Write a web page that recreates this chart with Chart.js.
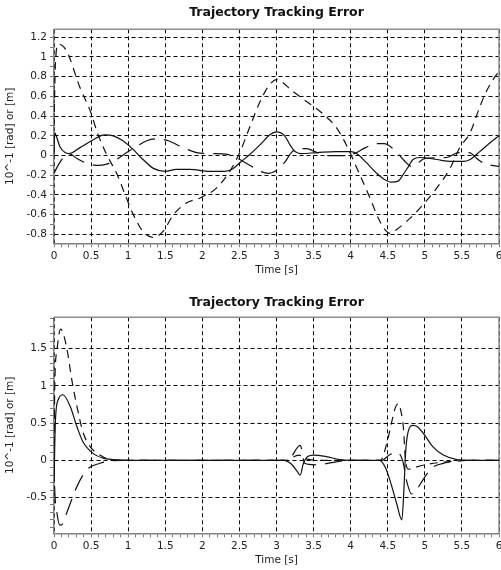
<!DOCTYPE html>
<html>
<head>
<meta charset="utf-8">
<script src="https://cdn.jsdelivr.net/npm/chart.js@4.4.1/dist/chart.umd.min.js"></script>
<style>
  body { margin: 0; background: #fff; }
  canvas { display: block; }
</style>
</head>
<body>
<canvas id="topChart" width="501" height="285"></canvas>
<canvas id="bottomChart" width="501" height="285"></canvas>
<script>
// upper plot
const topSolidT = [0, 0.01, 0.03, 0.08, 0.15, 0.2, 0.35, 0.53, 0.68, 0.8, 0.93, 1.07, 1.2, 1.34, 1.5, 1.65, 1.83, 2.1, 2.3, 2.4, 2.51, 2.64, 2.78, 2.91, 3.0, 3.11, 3.18, 3.25, 3.33, 3.55, 3.8, 4.0, 4.08, 4.21, 4.35, 4.45, 4.55, 4.64, 4.71, 4.78, 4.84, 4.93, 5.16, 5.34, 5.52, 5.61, 5.74, 5.88, 6.0];
const topSolid = [0, 0.23, 0.2, 0.09, 0.03, 0.02, 0.08, 0.16, 0.21, 0.2, 0.15, 0.06, -0.04, -0.13, -0.16, -0.14, -0.14, -0.16, -0.16, -0.14, -0.07, 0.01, 0.11, 0.21, 0.24, 0.2, 0.11, 0.04, 0.02, 0.03, 0.04, 0.04, 0.02, -0.07, -0.18, -0.24, -0.27, -0.26, -0.19, -0.11, -0.04, -0.02, -0.04, -0.06, -0.06, -0.04, 0.04, 0.13, 0.2];

const topDashT = [0, 0.02, 0.06, 0.17, 0.35, 0.49, 0.59, 0.71, 0.85, 0.96, 1.07, 1.2, 1.34, 1.47, 1.61, 1.79, 1.97, 2.19, 2.37, 2.51, 2.64, 2.78, 2.89, 3.0, 3.22, 3.4, 3.63, 3.81, 3.94, 4.12, 4.26, 4.37, 4.46, 4.53, 4.62, 4.75, 4.89, 5.02, 5.16, 5.34, 5.47, 5.61, 5.72, 5.81, 5.92, 6.0];
const topDash = [0.3, 0.95, 1.13, 1.06, 0.69, 0.45, 0.22, 0.01, -0.19, -0.4, -0.6, -0.77, -0.83, -0.77, -0.6, -0.48, -0.43, -0.33, -0.16, 0.04, 0.29, 0.55, 0.7, 0.77, 0.65, 0.55, 0.42, 0.28, 0.11, -0.19, -0.43, -0.63, -0.75, -0.79, -0.75, -0.67, -0.57, -0.46, -0.33, -0.13, 0.08, 0.23, 0.45, 0.62, 0.77, 0.85];

const topLongT = [0, 0.07, 0.15, 0.2, 0.31, 0.45, 0.6, 0.7, 0.84, 0.98, 1.11, 1.25, 1.38, 1.54, 1.74, 1.92, 2.1, 2.35, 2.45, 2.62, 2.78, 2.89, 2.98, 3.11, 3.2, 3.3, 3.4, 3.55, 3.7, 3.95, 4.05, 4.2, 4.35, 4.45, 4.6, 4.72, 4.82, 4.9, 5.0, 5.3, 5.45, 5.6, 5.7, 5.8, 5.9, 6.0];
const topLong = [-0.18, -0.08, 0.0, 0.02, -0.03, -0.08, -0.1, -0.09, -0.04, 0.03, 0.09, 0.15, 0.17, 0.15, 0.08, 0.03, 0.02, 0.01, -0.02, -0.09, -0.16, -0.18, -0.16, -0.07, 0.03, 0.07, 0.07, 0.03, 0.0, 0.0, 0.02, 0.08, 0.12, 0.12, 0.05, -0.05, -0.11, -0.08, -0.03, -0.02, 0.03, 0.03, -0.03, -0.08, -0.1, -0.11];

// lower plot
const botSolidT = [0, 0.02, 0.06, 0.12, 0.22, 0.31, 0.39, 0.53, 0.66, 0.8, 1.0, 3.1, 3.2, 3.28, 3.32, 3.36, 3.42, 3.5, 3.67, 3.85, 4.0, 4.39, 4.47, 4.53, 4.62, 4.69, 4.72, 4.74, 4.77, 4.84, 4.9, 4.98, 5.11, 5.25, 5.43, 5.6, 6.0];
const botSolid = [-0.3, 0.55, 0.82, 0.88, 0.72, 0.45, 0.25, 0.09, 0.03, 0.01, 0, 0, -0.05, -0.15, -0.2, -0.05, 0.05, 0.07, 0.05, 0.01, 0, 0, -0.1, -0.27, -0.58, -0.8, -0.35, 0.09, 0.36, 0.47, 0.45, 0.36, 0.18, 0.07, 0.01, 0, 0];

const botDashT = [0, 0.01, 0.04, 0.09, 0.17, 0.24, 0.31, 0.39, 0.49, 0.62, 0.75, 0.9, 1.0, 3.13, 3.3, 3.4, 3.6, 4.4, 4.5, 4.55, 4.6, 4.64, 4.68, 4.71, 4.74, 4.78, 4.85, 5.0, 5.2, 5.45, 5.6, 6.0];
const botDash = [0, 0.99, 1.48, 1.76, 1.52, 1.08, 0.72, 0.38, 0.18, 0.07, 0.01, 0, 0, 0, 0.07, 0.02, 0, 0, 0.28, 0.5, 0.7, 0.76, 0.65, 0.45, 0.0, -0.12, -0.1, -0.06, -0.03, -0.01, 0, 0];

const botLongT = [0, 0.01, 0.04, 0.08, 0.11, 0.17, 0.31, 0.44, 0.62, 0.75, 0.9, 3.15, 3.32, 3.38, 3.52, 3.81, 4.0, 4.42, 4.52, 4.62, 4.7, 4.76, 4.82, 4.87, 4.95, 5.1, 5.3, 5.5, 6.0];
const botLong = [0, -0.4, -0.71, -0.87, -0.86, -0.71, -0.35, -0.13, -0.04, -0.01, 0, 0, 0.2, -0.04, -0.06, -0.02, 0, 0, 0.07, 0.11, 0.0, -0.3, -0.45, -0.43, -0.3, -0.1, -0.03, 0, 0];

const chartTitle = 'Trajectory Tracking Error';
const xTitle = 'Time [s]';
const yTitle = '10^-1 [rad] or [m]';

const FONT = 'DejaVu Sans';

const framePlugin = {
    id: 'frame',
    beforeDatasetsDraw(chart) {
        const { ctx, chartArea: a } = chart;
        ctx.save();
        ctx.strokeStyle = '#8c8c8c';
        ctx.lineWidth = 1.5;
        ctx.beginPath();
        ctx.moveTo(a.left, a.top);
        ctx.lineTo(a.right, a.top);
        ctx.lineTo(a.right, a.bottom);
        ctx.stroke();
        ctx.restore();
    }
};

function tickList(lo, hi, step) {
    const out = [];
    for (let k = Math.ceil(lo / step - 1e-9); k * step <= hi + 1e-9; k++) {
        out.push({ value: Math.round(k * step * 1000) / 1000 });
    }
    return out;
}

const isMajor = (v, major) => Math.abs(v / major - Math.round(v / major)) < 1e-6;

function axisOpts(min, max, major, minor) {
    return {
        type: 'linear',
        min: min,
        max: max,
        afterBuildTicks: s => { s.ticks = tickList(min, max, minor); },
        ticks: {
            autoSkip: false,
            maxRotation: 0,
            padding: 3,
            color: '#222',
            font: { family: FONT, size: 10.5 },
            callback: v => isMajor(v, major) ? String(Math.round(v * 10) / 10) : ''
        },
        grid: {
            color: c => (c.tick && isMajor(c.tick.value, major)) ? '#000' : 'rgba(0,0,0,0)',
            lineWidth: 1,
            tickColor: '#777',
            tickLength: 4
        },
        border: { color: '#808080', width: 1.5, dash: [4, 3] }
    };
}

function makeChart(id, lines, yMin, yMax, yMajor, pad) {
    const x = axisOpts(0, 6, 0.5, 0.1);
    x.title = { display: true, text: xTitle, color: '#222', font: { family: FONT, size: 10.5 }, padding: { top: 0, bottom: pad.xTitleBottom } };
    x.afterFit = s => { s.height = pad.xHeight; s.paddingLeft = 0; s.paddingRight = 0; };

    const y = axisOpts(yMin, yMax, yMajor, 0.1);
    y.title = { display: true, text: yTitle, color: '#222', font: { family: FONT, size: 10.5 }, padding: { top: 4, bottom: 0 } };
    y.afterFit = s => { s.width = 54; };

    return new Chart(document.getElementById(id).getContext('2d'), {
        type: 'line',
        data: {
            datasets: lines.map(l => ({
                data: l.t.map((t, i) => ({ x: t, y: l.v[i] })),
                borderColor: '#111',
                borderWidth: 1.2,
                borderDash: l.dash,
                pointRadius: 0,
                cubicInterpolationMode: 'monotone',
                fill: false
            }))
        },
        options: {
            responsive: false,
            animation: false,
            devicePixelRatio: 1,
            layout: { padding: { left: 0, right: 2, top: 0, bottom: 0 } },
            plugins: {
                legend: { display: false },
                tooltip: { enabled: false },
                title: {
                    display: true,
                    text: chartTitle,
                    fullSize: false,
                    color: '#111',
                    font: { family: FONT, size: 12.5, weight: 'bold', lineHeight: 1.2 },
                    padding: { top: pad.titleTop, bottom: pad.titleBottom }
                }
            },
            scales: { x: x, y: y }
        },
        plugins: [framePlugin]
    });
}

makeChart('topChart', [
    { t: topSolidT, v: topSolid, dash: [] },
    { t: topDashT, v: topDash, dash: [8, 6] },
    { t: topLongT, v: topLong, dash: [17, 9] }
], -0.89, 1.28, 0.2, { titleTop: 5.5, titleBottom: 8.8, xHeight: 41.7, xTitleBottom: 8.7 });

makeChart('bottomChart', [
    { t: botSolidT, v: botSolid, dash: [] },
    { t: botDashT, v: botDash, dash: [8, 6] },
    { t: botLongT, v: botLong, dash: [17, 9] }
], -0.98, 1.92, 0.5, { titleTop: 10, titleBottom: 7.3, xHeight: 36.7, xTitleBottom: 3.7 });
</script>
</body>
</html>
